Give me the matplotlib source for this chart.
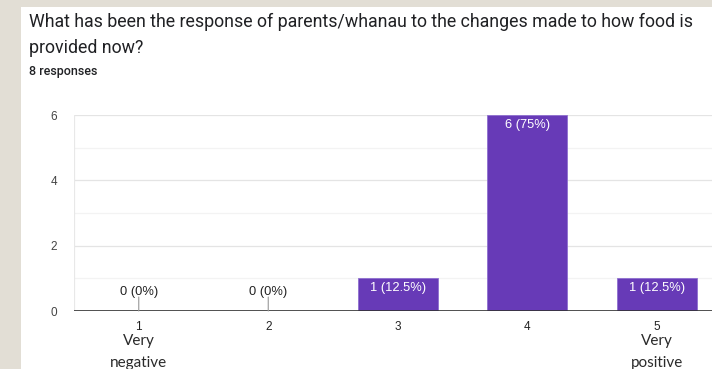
import matplotlib
matplotlib.use("Agg")
import matplotlib.pyplot as plt
from matplotlib.patches import Rectangle

categories = ["1", "2", "3", "4", "5"]
counts = [0, 0, 1, 6, 1]
total = 8
y_ticks = [0, 2, 4, 6]
title_lines = ["What has been the response of parents/whanau to the changes made to how food is",
               "provided now?"]
subtitle = "8 responses"
end_labels = {0: "Very\nnegative", 4: "Very\npositive"}

W, H = 712, 369
fig = plt.figure(figsize=(W / 100, H / 100), dpi=100)
fig.patch.set_facecolor("#E2DED5")
fig.add_artist(Rectangle((21 / W, 0), 1 - 21 / W, 1 - 7 / H, transform=fig.transFigure,
                         facecolor="white", edgecolor="none", zorder=0))

fig.text(29 / W, 1 - 22 / H, title_lines[0], fontsize=12.75, family="Roboto", color="#202124", va="center")
fig.text(29 / W, 1 - 48 / H, title_lines[1], fontsize=12.75, family="Roboto", color="#202124", va="center")
fig.text(29 / W, 1 - 72 / H, subtitle, fontsize=9, family="Roboto", fontweight="medium",
         color="#202124", va="center")

ax = fig.add_axes([74 / W, 58 / H, 647.5 / W, 196 / H])
ax.set_facecolor("none")
x = list(range(1, len(categories) + 1))
ax.set_xlim(0.5, len(categories) + 0.5)
ax.set_ylim(0, max(y_ticks))

for v in range(0, max(y_ticks) + 1):
    ax.axhline(v, color="#e4e4e4" if v % 2 == 0 else "#f3f3f3", lw=0.9, zorder=0)
ax.axhline(0, color="#333333", lw=1.2, zorder=3)
ax.axvline(0.5, color="#e8e8e8", lw=0.9, zorder=0)

ax.bar(x, counts, width=0.62, color="#673AB7", edgecolor="#8f6fd0", linewidth=0.6, zorder=2)

lab_font = dict(family="Liberation Sans", fontsize=9.3)
for xi, c in zip(x, counts):
    lab = f"{c} ({c / total * 100:g}%)"
    if c > 0:
        ax.annotate(lab, (xi, c), xytext=(0, -10), textcoords="offset pixels",
                    ha="center", va="center", color="white", zorder=4, **lab_font)
    else:
        ax.annotate("", (xi, 0), xytext=(0, 14), textcoords="offset pixels",
                    arrowprops=dict(arrowstyle="-", color="#999999", lw=0.8, shrinkA=0, shrinkB=0))
        ax.annotate(lab, (xi, 0), xytext=(0, 19), textcoords="offset pixels",
                    ha="center", va="center", color="#222222", **lab_font)

ax.set_xticks(x)
ax.set_xticklabels(categories, fontsize=8.5, family="Liberation Sans", color="#222222")
ax.set_yticks(y_ticks)
ax.set_yticklabels([str(t) for t in y_ticks], fontsize=8.5, family="Liberation Sans", color="#444444")
ax.tick_params(axis="both", length=0)
ax.tick_params(axis="x", pad=7)
ax.tick_params(axis="y", pad=12)
for s in ax.spines.values():
    s.set_visible(False)

for i, txt in end_labels.items():
    ax.annotate(txt, (x[i], 0), xytext=(0, -23), textcoords="offset pixels",
                ha="center", va="top", fontsize=11, family="Lato", color="#2a2a2a",
                linespacing=1.7, annotation_clip=False)

fig.savefig("out.png", dpi=100)
